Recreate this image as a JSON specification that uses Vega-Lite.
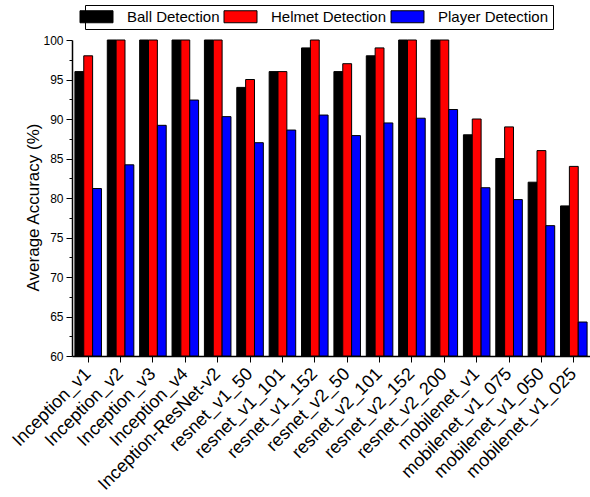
{
  "$schema": "https://vega.github.io/schema/vega-lite/v6.json",
  "autosize": {"type": "none"},
  "width": 518,
  "height": 316,
  "padding": {"left": 72, "top": 40, "right": 0, "bottom": 141},
  "background": "white",
  "config": {
    "font": "Liberation Sans",
    "view": {"stroke": null},
    "axis": {"domainColor": "black", "tickColor": "black", "labelColor": "black", "titleColor": "black", "grid": false, "titleFontWeight": "normal", "labelFont": "Liberation Sans", "titleFont": "Liberation Sans"},
    "legend": {"labelFont": "Liberation Sans"}
  },
  "data": {
    "values": [
      {"model": "Inception_v1", "series": "Ball Detection", "acc": 96},
      {"model": "Inception_v1", "series": "Helmet Detection", "acc": 98},
      {"model": "Inception_v1", "series": "Player Detection", "acc": 81.2},
      {"model": "Inception_v2", "series": "Ball Detection", "acc": 100},
      {"model": "Inception_v2", "series": "Helmet Detection", "acc": 100},
      {"model": "Inception_v2", "series": "Player Detection", "acc": 84.2},
      {"model": "Inception_v3", "series": "Ball Detection", "acc": 100},
      {"model": "Inception_v3", "series": "Helmet Detection", "acc": 100},
      {"model": "Inception_v3", "series": "Player Detection", "acc": 89.2},
      {"model": "Inception_v4", "series": "Ball Detection", "acc": 100},
      {"model": "Inception_v4", "series": "Helmet Detection", "acc": 100},
      {"model": "Inception_v4", "series": "Player Detection", "acc": 92.4},
      {"model": "Inception-ResNet-v2", "series": "Ball Detection", "acc": 100},
      {"model": "Inception-ResNet-v2", "series": "Helmet Detection", "acc": 100},
      {"model": "Inception-ResNet-v2", "series": "Player Detection", "acc": 90.3},
      {"model": "resnet_v1_50", "series": "Ball Detection", "acc": 94},
      {"model": "resnet_v1_50", "series": "Helmet Detection", "acc": 95},
      {"model": "resnet_v1_50", "series": "Player Detection", "acc": 87.0},
      {"model": "resnet_v1_101", "series": "Ball Detection", "acc": 96},
      {"model": "resnet_v1_101", "series": "Helmet Detection", "acc": 96},
      {"model": "resnet_v1_101", "series": "Player Detection", "acc": 88.6},
      {"model": "resnet_v1_152", "series": "Ball Detection", "acc": 99},
      {"model": "resnet_v1_152", "series": "Helmet Detection", "acc": 100},
      {"model": "resnet_v1_152", "series": "Player Detection", "acc": 90.5},
      {"model": "resnet_v2_50", "series": "Ball Detection", "acc": 96},
      {"model": "resnet_v2_50", "series": "Helmet Detection", "acc": 97},
      {"model": "resnet_v2_50", "series": "Player Detection", "acc": 87.9},
      {"model": "resnet_v2_101", "series": "Ball Detection", "acc": 98},
      {"model": "resnet_v2_101", "series": "Helmet Detection", "acc": 99},
      {"model": "resnet_v2_101", "series": "Player Detection", "acc": 89.5},
      {"model": "resnet_v2_152", "series": "Ball Detection", "acc": 100},
      {"model": "resnet_v2_152", "series": "Helmet Detection", "acc": 100},
      {"model": "resnet_v2_152", "series": "Player Detection", "acc": 90.1},
      {"model": "resnet_v2_200", "series": "Ball Detection", "acc": 100},
      {"model": "resnet_v2_200", "series": "Helmet Detection", "acc": 100},
      {"model": "resnet_v2_200", "series": "Player Detection", "acc": 91.2},
      {"model": "mobilenet_v1", "series": "Ball Detection", "acc": 88},
      {"model": "mobilenet_v1", "series": "Helmet Detection", "acc": 90},
      {"model": "mobilenet_v1", "series": "Player Detection", "acc": 81.3},
      {"model": "mobilenet_v1_075", "series": "Ball Detection", "acc": 85},
      {"model": "mobilenet_v1_075", "series": "Helmet Detection", "acc": 89},
      {"model": "mobilenet_v1_075", "series": "Player Detection", "acc": 79.8},
      {"model": "mobilenet_v1_050", "series": "Ball Detection", "acc": 82},
      {"model": "mobilenet_v1_050", "series": "Helmet Detection", "acc": 86},
      {"model": "mobilenet_v1_050", "series": "Player Detection", "acc": 76.5},
      {"model": "mobilenet_v1_025", "series": "Ball Detection", "acc": 79},
      {"model": "mobilenet_v1_025", "series": "Helmet Detection", "acc": 84},
      {"model": "mobilenet_v1_025", "series": "Player Detection", "acc": 64.3}
    ]
  },
  "mark": {"type": "bar", "stroke": "black", "strokeWidth": 1},
  "encoding": {
    "x": {
      "field": "model", "type": "nominal", "sort": null,
      "scale": {"paddingInner": 0.18, "paddingOuter": 0.09},
      "axis": {"title": null, "labelAngle": -45, "labelAlign": "right", "labelBaseline": "middle", "labelFontSize": 18, "tickSize": 6, "labelPadding": 9, "domainWidth": 1.5}
    },
    "xOffset": {"field": "series", "type": "nominal", "scale": {"paddingInner": 0, "paddingOuter": 0}},
    "y": {
      "field": "acc", "type": "quantitative",
      "scale": {"domain": [60, 100], "zero": false, "nice": false},
      "axis": {
        "title": "Average Accuracy (%)", "titleFontSize": 17, "titlePadding": 0, "titleY": 167,
        "values": [60, 62.5, 65, 67.5, 70, 72.5, 75, 77.5, 80, 82.5, 85, 87.5, 90, 92.5, 95, 97.5, 100],
        "labelExpr": "datum.value % 5 === 0 ? datum.label : ''",
        "tickSize": {"condition": {"test": "datum.value % 5 === 0", "value": 6}, "value": 3},
        "labelFontSize": 12, "labelPadding": 3, "domainWidth": 1.5
      }
    },
    "y2": {"datum": 60},
    "color": {
      "field": "series", "type": "nominal",
      "scale": {"domain": ["Ball Detection", "Helmet Detection", "Player Detection"], "range": ["#000000", "#ff0000", "#0000ff"]},
      "legend": {
        "title": null, "orient": "none", "direction": "horizontal", "legendX": 13, "legendY": -35,
        "strokeColor": "black", "fillColor": "white", "padding": 4,
        "labelFontSize": 15, "labelOffset": 23, "columnPadding": 2,
        "symbolType": "M-2.75,-1H2.75V1H-2.75Z", "symbolSize": 144,
        "symbolStrokeColor": "black", "symbolStrokeWidth": 1, "symbolOpacity": 1
      }
    }
  }
}
